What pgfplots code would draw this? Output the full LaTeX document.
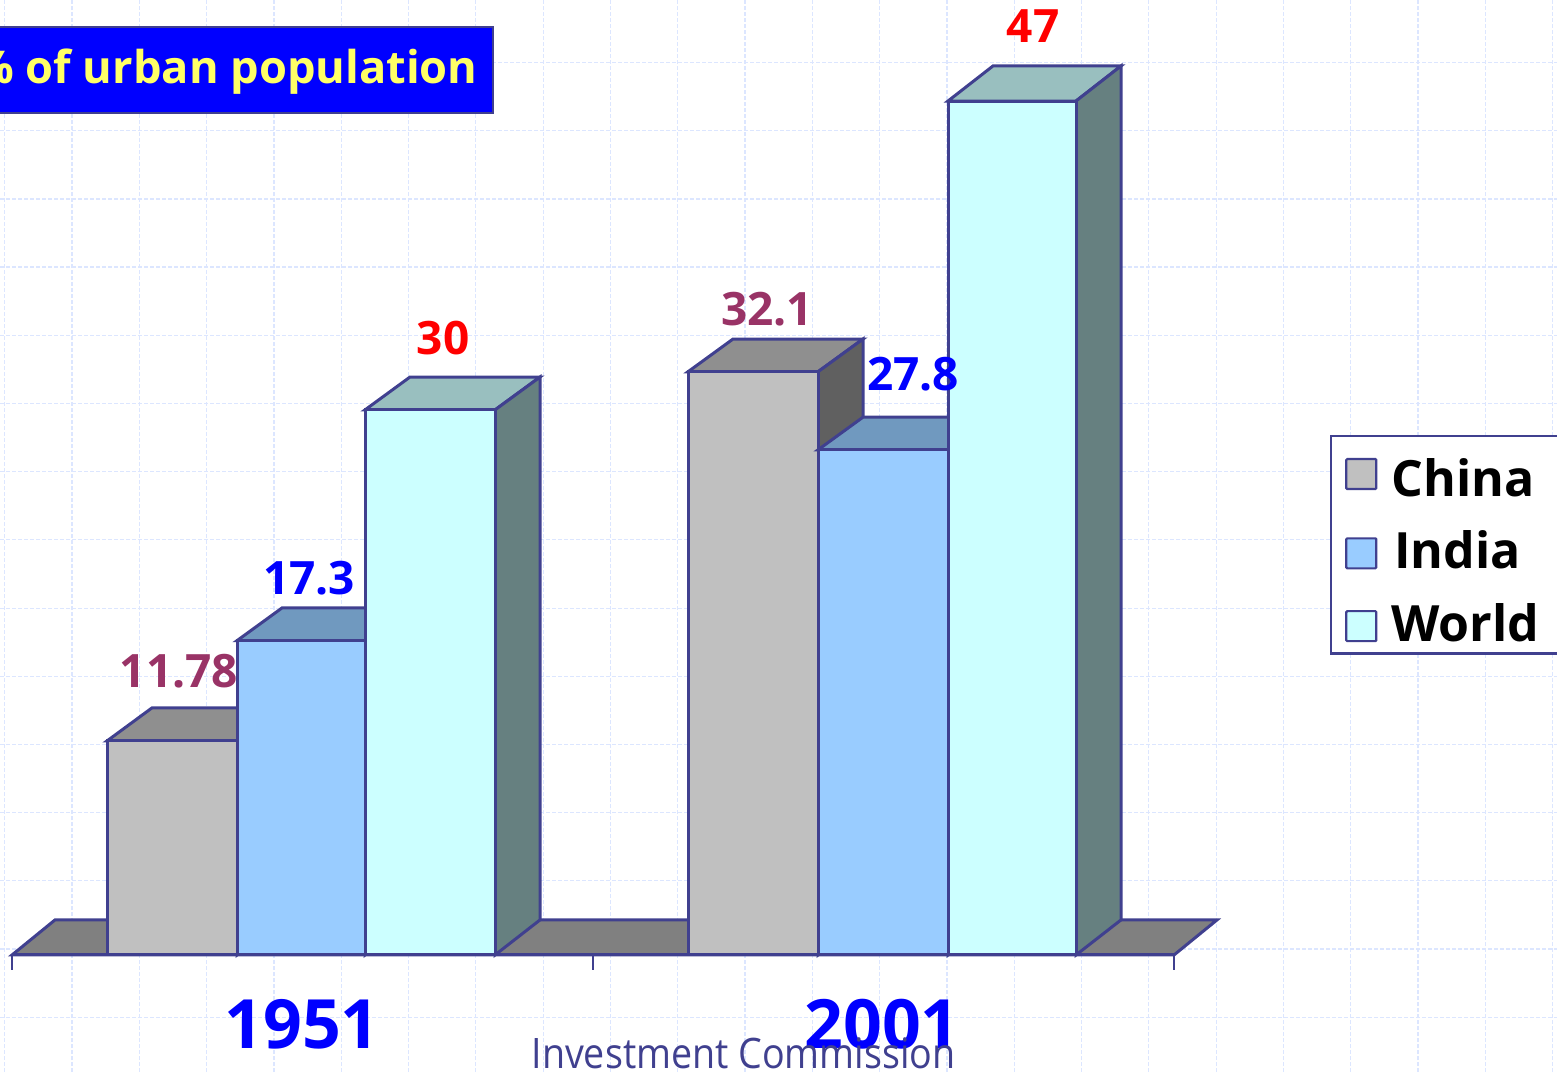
\documentclass[border=0pt]{standalone}
\usepackage{fontspec}
\setmainfont{Open Sans}[BoldFont={Open Sans Bold}]
\usepackage{pgfplots}
\pgfplotsset{compat=1.18}
\definecolor{edge}{HTML}{40408F}
\definecolor{gridc}{HTML}{DCE6FF}
\definecolor{chinaF}{HTML}{C0C0C0}
\definecolor{chinaT}{HTML}{8F8F8F}
\definecolor{chinaS}{HTML}{606060}
\definecolor{indiaF}{HTML}{99CCFF}
\definecolor{indiaT}{HTML}{7099BF}
\definecolor{indiaS}{HTML}{4C6680}
\definecolor{worldF}{HTML}{CCFFFF}
\definecolor{worldT}{HTML}{99BFBF}
\definecolor{worldS}{HTML}{668080}
\definecolor{plum}{HTML}{993366}
\definecolor{banner}{HTML}{0000FF}
\definecolor{bannertxt}{HTML}{FFFF66}
\begin{document}
\begin{tikzpicture}
\useasboundingbox (0,0) rectangle (778.5pt,536pt);
\clip (0,0) rectangle (778.5pt,536pt);
\begin{axis}[
    at={(0,0)},anchor=south west,
    scale only axis,
    width=778.5pt,height=536pt,
    xmin=0,xmax=1557,
    ymin=-6.44,ymax=52.56,
    xtick={4.7,72,139.3,206.6,273.9,341.2,408.5,475.8,543.1,610.4,677.7,745,812.3,879.6,946.9,1014.2,1081.5,1148.8,1216.1,1283.4,1350.7,1418,1485.3,1552.6},
    ytick={-3.42,0.33,4.08,7.84,11.59,15.34,19.09,22.85,26.60,30.35,34.10,37.86,41.61,45.36,49.11},
    xticklabels={},yticklabels={},
    grid=major,
    grid style={gridc,line width=0.6pt,dash pattern=on 2pt off 1pt},
    axis line style={draw=none},
    tick style={draw=none},
    legend cell align=left,
    legend style={at={(axis cs:1330,16.52)},anchor=south west,draw=edge,line width=1.2pt,
        font=\fontsize{25}{27}\selectfont\bfseries,inner xsep=7pt,inner ysep=2.5pt,
        row sep=11.9pt,fill=white,/tikz/column 1/.style={column sep=5pt}},
]
% floor
\addplot[forget plot,fill=gray,draw=edge,line width=1.5pt] coordinates {(12,0)(55,1.93)(1217,1.93)(1174,0)} --cycle;

% China
\addplot[forget plot,fill=chinaT,draw=edge,line width=1.5pt] coordinates {(107,11.78)(152,13.6)(282,13.6)(237,11.78)} --cycle;
\addplot[forget plot,fill=chinaS,draw=edge,line width=1.5pt] coordinates {(237,0)(282,1.93)(282,13.6)(237,11.78)} --cycle;
\addplot[forget plot,fill=chinaT,draw=edge,line width=1.5pt] coordinates {(688,32.1)(733,33.9)(863,33.9)(818,32.1)} --cycle;
\addplot[forget plot,fill=chinaS,draw=edge,line width=1.5pt] coordinates {(818,0)(863,1.93)(863,33.9)(818,32.1)} --cycle;
\addplot[forget plot,ybar,bar shift=0pt,bar width=130,fill=chinaF,draw=edge,line width=1.5pt] coordinates {(172,11.78)(753,32.1)};

% India
\addplot[forget plot,fill=indiaT,draw=edge,line width=1.5pt] coordinates {(237,17.3)(282,19.1)(410,19.1)(365,17.3)} --cycle;
\addplot[forget plot,fill=indiaS,draw=edge,line width=1.5pt] coordinates {(365,0)(410,1.93)(410,19.1)(365,17.3)} --cycle;
\addplot[forget plot,fill=indiaT,draw=edge,line width=1.5pt] coordinates {(818,27.8)(863,29.6)(993,29.6)(948,27.8)} --cycle;
\addplot[forget plot,fill=indiaS,draw=edge,line width=1.5pt] coordinates {(948,0)(993,1.93)(993,29.6)(948,27.8)} --cycle;
\addplot[forget plot,ybar,bar shift=0pt,bar width=128,fill=indiaF,draw=edge,line width=1.5pt] coordinates {(301,17.3)};
\addplot[forget plot,ybar,bar shift=0pt,bar width=130,fill=indiaF,draw=edge,line width=1.5pt] coordinates {(883,27.8)};

% World
\addplot[forget plot,fill=worldT,draw=edge,line width=1.5pt] coordinates {(365,30)(410,31.81)(540,31.81)(495,30)} --cycle;
\addplot[forget plot,fill=worldS,draw=edge,line width=1.5pt] coordinates {(495,0)(540,1.93)(540,31.81)(495,30)} --cycle;
\addplot[forget plot,fill=worldT,draw=edge,line width=1.5pt] coordinates {(948,47)(993,48.93)(1121,48.93)(1076,47)} --cycle;
\addplot[forget plot,fill=worldS,draw=edge,line width=1.5pt] coordinates {(1076,0)(1121,1.93)(1121,48.93)(1076,47)} --cycle;
\addplot[forget plot,ybar,bar shift=0pt,bar width=130,fill=worldF,draw=edge,line width=1.5pt] coordinates {(430,30)};
\addplot[forget plot,ybar,bar shift=0pt,bar width=128,fill=worldF,draw=edge,line width=1.5pt] coordinates {(1012,47)};

% axis line and ticks
\draw[edge,line width=1.5pt] (axis cs:12,0) -- (axis cs:1174,0);
\draw[edge,line width=1pt] (axis cs:12,0) -- (axis cs:12,-0.83);
\draw[edge,line width=1pt] (axis cs:593,0) -- (axis cs:593,-0.83);
\draw[edge,line width=1pt] (axis cs:1174,0) -- (axis cs:1174,-0.83);

% value labels
\begin{scope}[every node/.style={anchor=base,font=\fontsize{23}{25}\selectfont\bfseries,inner sep=0pt}]
\node[text=plum] at (axis cs:179,14.74) {11.78};
\node[text=banner] at (axis cs:309,19.83) {17.3};
\node[text=red] at (axis cs:443,33.07) {30};
\node[text=plum] at (axis cs:767,34.67) {32.1};
\node[text=banner] at (axis cs:913,31.08) {27.8};
\node[text=red] at (axis cs:1033,50.24) {47};
\end{scope}

% category names
\node[anchor=base,inner sep=0pt,text=banner,font=\fontsize{34}{36}\selectfont\bfseries] at (axis cs:302,-5.16) {1951};
\node[anchor=base,inner sep=0pt,text=banner,font=\fontsize{34}{36}\selectfont\bfseries] at (axis cs:882,-5.16) {2001};

% banner title, its left end runs off the page
\fill[banner,draw=edge,line width=1pt] (axis cs:-10,46.34) rectangle (axis cs:493,51.07);
\node[anchor=base east,inner sep=0pt,text=bannertxt,font=\fontsize{22.6}{25}\selectfont\bfseries] at (axis cs:478,47.98) {\% of urban population};

% footer
\node[anchor=base,inner sep=0pt,text=edge,font=\fontsize{21}{23}\selectfont] at (axis cs:743.5,-6.25) {\scalebox{0.895}[1]{Investment Commission}};

\addlegendimage{legend image code/.code={\path[draw=edge,fill=chinaF,line width=1.1pt,rounded corners=0.5pt] (0pt,-8.5pt) rectangle (15pt,6.5pt);}}
\addlegendentry{\rule{0pt}{25.5pt}China}
\addlegendimage{legend image code/.code={\path[draw=edge,fill=indiaF,line width=1.1pt,rounded corners=0.5pt] (0pt,-8.5pt) rectangle (15pt,6.5pt);}}
\addlegendentry{\hspace*{1.5pt}India}
\addlegendimage{legend image code/.code={\path[draw=edge,fill=worldF,line width=1.1pt,rounded corners=0.5pt] (0pt,-8.5pt) rectangle (15pt,6.5pt);}}
\addlegendentry{World\hspace*{14pt}}
\end{axis}
\end{tikzpicture}
\end{document}
